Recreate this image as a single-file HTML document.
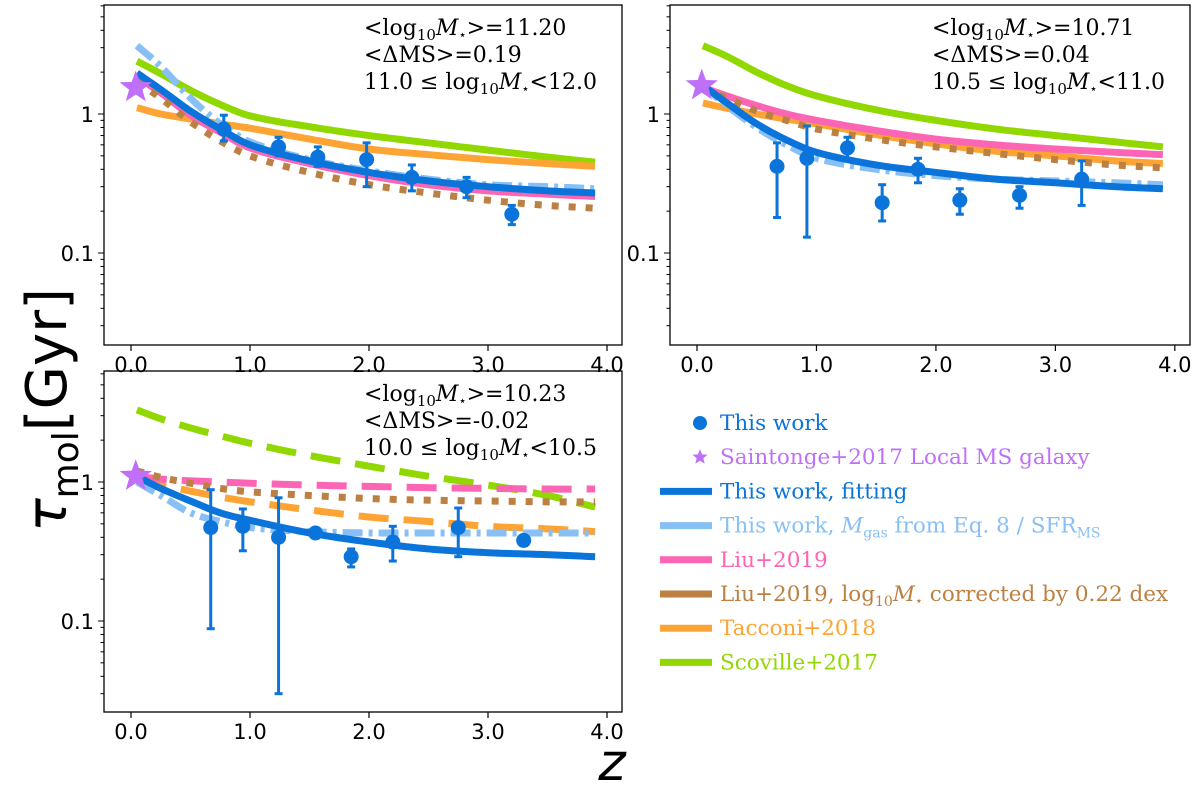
<!DOCTYPE html>
<html><head><meta charset="utf-8"><style>
body{margin:0;background:#fff}
svg{display:block}
.tk{font-family:"DejaVu Sans","Liberation Sans",sans-serif;font-size:21px;fill:#000}
.an{font-family:"DejaVu Serif","Liberation Serif",serif;font-size:22px;fill:#000}
.lg{font-family:"DejaVu Serif","Liberation Serif",serif;font-size:21.5px}
</style></head><body>
<svg id="fig" width="1200" height="788" xmlns="http://www.w3.org/2000/svg"></svg>
<script>
const zGrid=[0.05,0.25,0.5,0.75,1,1.5,2,2.5,3,3.5,3.9];
// panel 1 series
const p1Green=[2.4,1.95,1.48,1.17,0.97,0.81,0.70,0.62,0.55,0.49,0.45];
const p1Orange=[1.11,1.0,0.92,0.85,0.79,0.66,0.56,0.51,0.47,0.44,0.42];
const p1Blue=[1.97,1.5,1.05,0.78,0.6,0.46,0.38,0.33,0.3,0.28,0.27];
const p1Pink=[1.85,1.42,0.98,0.74,0.57,0.44,0.36,0.31,0.28,0.265,0.255];
const p1Light=[3.1,2.2,1.3,0.85,0.63,0.47,0.39,0.34,0.31,0.3,0.29];
const p1Brown=[1.7,1.3,0.88,0.64,0.5,0.38,0.31,0.27,0.24,0.22,0.21];
const p1Z=[0.78,1.24,1.57,1.98,2.36,2.82,3.2];
const p1V=[0.78,0.58,0.49,0.47,0.35,0.30,0.19];
const p1Lo=[0.64,0.5,0.42,0.3,0.28,0.25,0.16];
const p1Hi=[0.98,0.68,0.58,0.62,0.43,0.35,0.22];
const p1Star=1.55;
// panel 2 series
const p2Green=[3.1,2.6,2.0,1.6,1.35,1.07,0.9,0.78,0.7,0.63,0.58];
const p2Pink=[1.55,1.35,1.15,1.0,0.9,0.76,0.66,0.6,0.56,0.53,0.51];
const p2Orange=[1.2,1.1,1.0,0.92,0.85,0.71,0.61,0.54,0.5,0.46,0.44];
const p2Brown=[1.5,1.3,1.05,0.9,0.78,0.66,0.58,0.52,0.47,0.43,0.41];
const p2Blue=[1.6,1.2,0.85,0.65,0.53,0.43,0.38,0.34,0.32,0.3,0.29];
const p2Light=[1.6,1.15,0.8,0.6,0.48,0.4,0.36,0.34,0.33,0.32,0.31];
const p2Z=[0.67,0.92,1.26,1.55,1.85,2.2,2.7,3.22];
const p2V=[0.42,0.48,0.57,0.23,0.40,0.24,0.26,0.34];
const p2Lo=[0.18,0.13,0.47,0.17,0.32,0.19,0.21,0.22];
const p2Hi=[0.62,0.82,0.68,0.31,0.48,0.29,0.3,0.46];
const p2Star=1.6;
// panel 3 series
const p3Green=[3.3,2.85,2.45,2.15,1.9,1.55,1.3,1.1,0.95,0.8,0.66];
const p3Pink=[1.1,1.05,1.02,1.0,0.98,0.95,0.93,0.91,0.9,0.89,0.89];
const p3Brown=[1.2,1.08,0.98,0.9,0.85,0.8,0.76,0.74,0.73,0.72,0.72];
const p3Orange=[1.05,0.95,0.86,0.78,0.72,0.63,0.56,0.52,0.48,0.46,0.44];
const p3Blue=[1.1,0.9,0.73,0.6,0.53,0.43,0.37,0.33,0.31,0.3,0.29];
const p3Light=[1.0,0.8,0.6,0.52,0.47,0.44,0.43,0.43,0.43,0.43,0.43];
const p3Z=[0.67,0.94,1.24,1.55,1.85,2.2,2.75,3.3];
const p3V=[0.47,0.48,0.40,0.43,0.29,0.37,0.47,0.38];
const p3Lo=[0.088,0.32,0.03,0.4,0.245,0.27,0.29,0.35];
const p3Hi=[0.88,0.64,0.77,0.46,0.33,0.48,0.65,0.41];
const p3Star=1.1;
const xTicks=["0.0","1.0","2.0","3.0","4.0"];
const yTicks=[["1",1],["0.1",0.1]];

const C={blue:"#0a74da",light:"#88bff5",pink:"#fc65b4",brown:"#bd8043",orange:"#fda434",green:"#90d800",star:"#bf6ff8"};
const NS="http://www.w3.org/2000/svg";
const svg=document.getElementById('fig');
function mk(t,a,p){const e=document.createElementNS(NS,t);for(const k in a)e.setAttribute(k,a[k]);(p||svg).appendChild(e);return e;}

// smooth Hermite interpolation of log10(values) on the z grid
function interp(vals,z){
  const ly=vals.map(v=>Math.log10(v)),n=zGrid.length;
  const m=ly.map((_,i)=>{const a=Math.max(0,i-1),b=Math.min(n-1,i+1);return (ly[b]-ly[a])/(zGrid[b]-zGrid[a]);});
  let i=0;while(i<n-2&&z>zGrid[i+1])i++;
  const h=zGrid[i+1]-zGrid[i],t=Math.min(1,Math.max(0,(z-zGrid[i])/h));
  const t2=t*t,t3=t2*t;
  return Math.pow(10,(2*t3-3*t2+1)*ly[i]+(t3-2*t2+t)*h*m[i]+(-2*t3+3*t2)*ly[i+1]+(t3-t2)*h*m[i+1]);
}

function panel(name,L,R,T,B,y1,series,Z,V,Lo,Hi,star,ann){
  const g=mk('g',{});
  
  
  const x0=L+27,ux=119*(R-L)/518;
  const X=z=>x0+z*ux, Y=v=>y1-Math.log10(v)*139;
  const cid=name+'-clip';
  const cp=mk('clipPath',{id:cid},g);mk('rect',{x:L,y:T,width:R-L,height:B-T},cp);
  const pg=mk('g',{'clip-path':`url(#${cid})`},g);
  series.forEach(s=>{
    const z0=zGrid[0],z1=zGrid[zGrid.length-1];let d='';
    for(let k=0;k<=150;k++){const z=z0+(z1-z0)*k/150;d+=(k?'L':'M')+X(z).toFixed(2)+','+Y(interp(s.v,z)).toFixed(2);}
    const e=mk('path',{d,fill:'none',stroke:s.c,'stroke-width':s.w||7,'stroke-dasharray':s.da||'none'},pg);
    
    
  });
  Z.forEach((z,i)=>{
    const eb=mk('g',{},pg);
    
    
    const x=X(z);
    mk('line',{x1:x,x2:x,y1:Y(Lo[i]),y2:Y(Hi[i]),stroke:C.blue,'stroke-width':3},eb);
    mk('line',{x1:x-4,x2:x+4,y1:Y(Lo[i]),y2:Y(Lo[i]),stroke:C.blue,'stroke-width':3},eb);
    mk('line',{x1:x-4,x2:x+4,y1:Y(Hi[i]),y2:Y(Hi[i]),stroke:C.blue,'stroke-width':3},eb);
    mk('circle',{cx:x,cy:Y(V[i]),r:7.5,fill:C.blue},eb);
  });
  const sx=X(0.04),sy=Y(star);let sp='';
  for(let k=0;k<10;k++){const r=k%2?7:17,a=-Math.PI/2+k*Math.PI/5;sp+=(sx+r*Math.cos(a))+','+(sy+r*Math.sin(a))+' ';}
  const st=mk('polygon',{points:sp,fill:C.star},pg);
  
  
  mk('rect',{x:L,y:T,width:R-L,height:B-T,fill:'none',stroke:'#000','stroke-width':1.3},g);
  xTicks.forEach((t,i)=>{const x=X(i);mk('line',{x1:x,x2:x,y1:B,y2:B+6,stroke:'#000','stroke-width':1.2},g);
    const tx=mk('text',{x:x,y:B+27,'text-anchor':'middle',class:'tk'},g);tx.textContent=t;});
  for(let dec=-2;dec<=0;dec++)for(let m=1;m<=9;m++){const v=m*Math.pow(10,dec),y=Y(v);if(y<T||y>B)continue;
    mk('line',{x1:L,x2:L-(m==1?6:3.5),y1:y,y2:y,stroke:'#000','stroke-width':1},g);}
  yTicks.forEach(([t,v])=>{const tx=mk('text',{x:L-10,y:Y(v)+8,'text-anchor':'end',class:'tk'},g);tx.textContent=t;});
  const an=mk('g',{},g);
  ann.forEach((h,i)=>{const tx=mk('text',{x:R-258,y:T+30+i*27,class:'an'},an);tx.innerHTML=h;});
}
function A(m,ms,lo,hi){return [`&lt;log<tspan font-size="15" dy="5">10</tspan><tspan dy="-5" font-style="italic">M</tspan><tspan font-size="13" dy="4">⋆</tspan><tspan dy="-4">&gt;=${m}</tspan>`,
 `&lt;ΔMS&gt;=${ms}`,`${lo} ≤ log<tspan font-size="15" dy="5">10</tspan><tspan dy="-5" font-style="italic">M</tspan><tspan font-size="13" dy="4">⋆</tspan><tspan dy="-4">&lt;${hi}</tspan>`];}
const DOT='7 10',DD='20 6 4 6',DSH='30 15';
panel('panel-high-mass',104,622,5,345,114,[
 {n:'scoville',v:p1Green,c:C.green},{n:'tacconi',v:p1Orange,c:C.orange},{n:'liu',v:p1Pink,c:C.pink},
 {n:'liu-corrected',v:p1Brown,c:C.brown,da:DOT},{n:'fit-mgas',v:p1Light,c:C.light,da:DD},{n:'fit',v:p1Blue,c:C.blue}],
 p1Z,p1V,p1Lo,p1Hi,p1Star,A('11.20','0.19','11.0','12.0'));
panel('panel-mid-mass',670,1190,5,345,114,[
 {n:'scoville',v:p2Green,c:C.green},{n:'tacconi',v:p2Orange,c:C.orange},{n:'liu',v:p2Pink,c:C.pink},
 {n:'liu-corrected',v:p2Brown,c:C.brown,da:DOT},{n:'fit-mgas',v:p2Light,c:C.light,da:DD},{n:'fit',v:p2Blue,c:C.blue}],
 p2Z,p2V,p2Lo,p2Hi,p2Star,A('10.71','0.04','10.5','11.0'));
panel('panel-low-mass',104,622,371,712,482,[
 {n:'scoville',v:p3Green,c:C.green,da:DSH},{n:'tacconi',v:p3Orange,c:C.orange,da:DSH},{n:'liu',v:p3Pink,c:C.pink,da:DSH},
 {n:'liu-corrected',v:p3Brown,c:C.brown,da:DOT},{n:'fit-mgas',v:p3Light,c:C.light,da:DD},{n:'fit',v:p3Blue,c:C.blue}],
 p3Z,p3V,p3Lo,p3Hi,p3Star,A('10.23','-0.02','10.0','10.5'));

// axis titles
const yl=mk('text',{x:0,y:0,transform:'translate(66,410) rotate(-90)','text-anchor':'middle','font-family':'DejaVu Sans, sans-serif','font-size':'56'});
yl.innerHTML='<tspan font-style="italic">τ</tspan><tspan font-size="36" dy="12">mol</tspan><tspan dy="-12">[Gyr]</tspan>';

const xl=mk('text',{x:612,y:780,'text-anchor':'middle','font-family':'DejaVu Sans, sans-serif','font-size':'52','font-style':'italic'});
xl.textContent='z';

// legend
const lgd=mk('g',{});
const items=[
 ['marker',C.blue,'This work'],['star',C.star,'Saintonge+2017 Local MS galaxy'],
 ['line',C.blue,'This work, fitting'],['line',C.light,'This work, <tspan font-style="italic">M</tspan><tspan font-size="14" dy="5">gas</tspan><tspan dy="-5"> from Eq. 8 / SFR</tspan><tspan font-size="14" dy="5">MS</tspan>'],
 ['line',C.pink,'Liu+2019'],['line',C.brown,'Liu+2019, log<tspan font-size="14" dy="5">10</tspan><tspan dy="-5" font-style="italic">M</tspan><tspan font-size="13" dy="4">⋆</tspan><tspan dy="-4"> corrected by 0.22 dex</tspan>'],
 ['line',C.orange,'Tacconi+2018'],['line',C.green,'Scoville+2017']];
items.forEach((it,i)=>{
  const y=423+i*34.2;const e=mk('g',{},lgd);
  
  if(it[0]=='marker')mk('circle',{cx:700,cy:y,r:7,fill:it[1]},e);
  else if(it[0]=='star'){let sp='';for(let k=0;k<10;k++){const r=k%2?3.5:8,a=-Math.PI/2+k*Math.PI/5;sp+=(700+r*Math.cos(a))+','+(y+r*Math.sin(a))+' ';}mk('polygon',{points:sp,fill:it[1]},e);}
  else mk('line',{x1:660,x2:712,y1:y,y2:y,stroke:it[1],'stroke-width':7},e);
  const t=mk('text',{x:720,y:y+7,class:'lg',fill:it[1]},e);t.innerHTML=it[2];
});
</script>
</body></html>
